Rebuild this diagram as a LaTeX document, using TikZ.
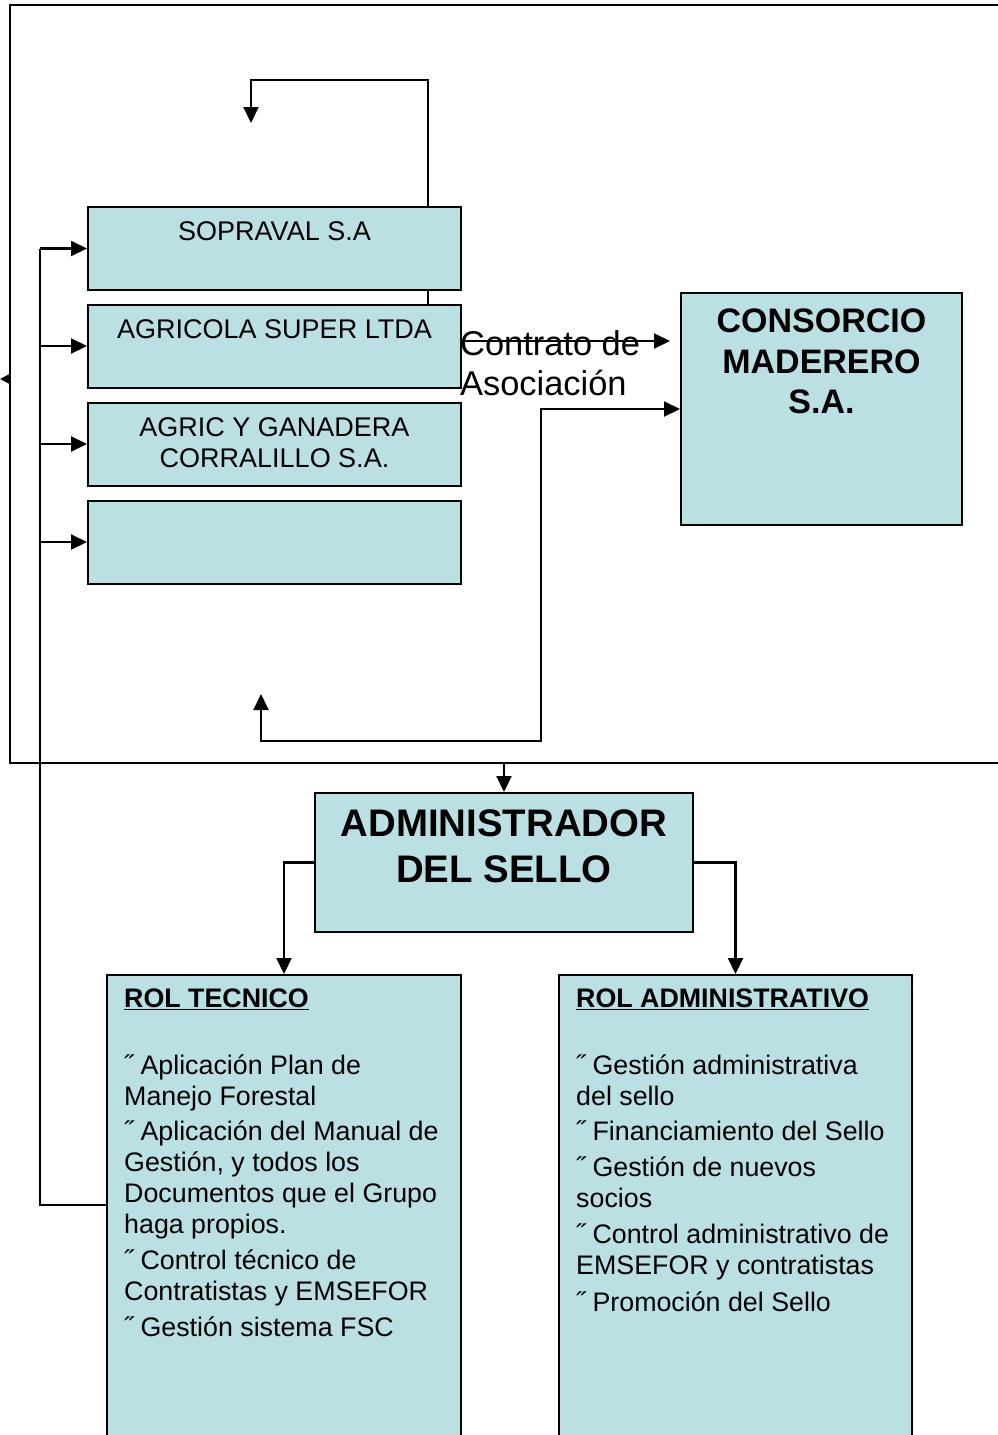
\documentclass[tikz,border=0pt]{standalone}
\usepackage{fontspec}
\setmainfont{Liberation Sans}
\usetikzlibrary{arrows.meta}
\definecolor{boxfill}{RGB}{187,224,227}

\tikzset{
  firmbox/.style={draw=black, fill=boxfill, line width=2pt, inner sep=0pt, minimum width=373pt, minimum height=83pt},
  bigbox/.style={draw=black, fill=boxfill, line width=2pt, inner sep=0pt},
  firmtext/.style={anchor=north, inner sep=0pt, align=center, font=\fontsize{27}{31}\selectfont},
  roltext/.style={anchor=north west, inner sep=0pt, align=left, font=\fontsize{26.8}{31}\selectfont},
  link/.style={line width=2.1pt},
  arr/.style={line width=2.1pt, -{Triangle[length=16pt,width=15pt]}},
  twoarr/.style={line width=2.1pt, {Triangle[length=16pt,width=15pt]}-{Triangle[length=16pt,width=15pt]}}
}

\begin{document}
\begin{tikzpicture}[x=1pt,y=1pt,yscale=-1,xscale=1]
\useasboundingbox (0,0) rectangle (998,1435);

% Outer frame
\draw[line width=2.2pt] (10,5) rectangle (1014,763);
\coordinate (frameleft) at (10,379);
\draw[line width=2pt, -{Triangle[length=10pt,width=10pt]}] (frameleft) -- ++(-10,0);

% Member companies
\node[firmbox] (sopraval) at (274.5,248.5) {};
\node[firmbox] (agricola) at (274.5,346) {};
\node[firmbox] (corralillo) at (274.5,444) {};
\node[firmbox] (blank) at (274.5,542) {};
\node[firmtext] (soptxt) at (274.5,221) {SOPRAVAL S.A};
\node[firmtext] (agrtxt) at (274.5,319) {AGRICOLA SUPER LTDA};
\node[firmtext] (cortxt) at (274.5,417) {AGRIC Y GANADERA\\CORRALILLO S.A.};

% Consortium
\node[bigbox, minimum width=281pt, minimum height=232pt] (consorcio) at (821.5,409) {};
\node[anchor=north, inner sep=0pt, align=center, font=\fontsize{34}{40.5}\selectfont\bfseries] (constxt) at (821.5,309) {CONSORCIO\\MADERERO\\S.A.};

% Contract label
\node[anchor=north west, inner sep=0pt, align=left, font=\fontsize{34.4}{40}\selectfont] (contrato) at (460,330) {Contrato de\\Asociaci\'on};

% Seal administrator
\node[bigbox, minimum width=378pt, minimum height=139pt] (admin) at (504,862.5) {};
\node[anchor=north, inner sep=0pt, align=center, font=\fontsize{38.4}{46}\selectfont\bfseries] (admintxt) at (504,809.5) {ADMINISTRADOR\\DEL SELLO};

% Roles
\node[bigbox, minimum width=354pt, minimum height=470pt] (tecnico) at (284,1210) {};
\node[bigbox, minimum width=353pt, minimum height=470pt] (administrativo) at (735.5,1210) {};
\node[roltext] (tectxt) at (124,988.5) {\textbf{\underline{ROL TECNICO}}\\[36pt]
˝ Aplicación Plan de\\
Manejo Forestal\\[4.5pt]
˝ Aplicación del Manual de\\
Gestión, y todos los\\
Documentos que el Grupo\\
haga propios.\\[4.5pt]
˝ Control técnico de\\
Contratistas y EMSEFOR\\[5.5pt]
˝ Gestión sistema FSC};
\node[roltext] (admtxt) at (576,988.5) {\textbf{\underline{ROL ADMINISTRATIVO}}\\[36pt]
˝ Gestión administrativa\\
del sello\\[4.5pt]
˝ Financiamiento del Sello\\[5pt]
˝ Gestión de nuevos\\
socios\\[5pt]
˝ Control administrativo de\\
EMSEFOR y contratistas\\[5.5pt]
˝ Promoción del Sello};

% Top loop
\coordinate (loopx) at (428,0);
\draw[arr] (sopraval.north -| loopx) |- (251,80) -- (251,123);
\draw[link] (sopraval.south -| loopx) -- (agricola.north -| loopx);

% Left bus
\coordinate (bustop) at (40,248.5);
\coordinate (busend) at (40,1205);
\draw[link] (bustop) -- (busend) -- (busend -| tecnico.west);
\draw[arr] (sopraval.west -| bustop) -- (sopraval.west);
\draw[arr] (agricola.west -| bustop) -- (agricola.west);
\draw[arr] (corralillo.west -| bustop) -- (corralillo.west);
\draw[arr] (blank.west -| bustop) -- (blank.west);

% Contract arrows
\coordinate (contend) at (670,341);
\draw[arr] (agricola.east |- contend) -- (contend);
\coordinate (rettip) at (261,694);
\coordinate (retcorner) at (541,741);
\draw[twoarr] (rettip) |- (retcorner) |- (consorcio.west);

% Administrator links
\coordinate (framebot) at (504,763);
\draw[arr] (framebot) -- (admin.north);
\draw[arr] (admin.west) -| (tecnico.north);
\draw[arr] (admin.east) -| (administrativo.north);

\end{tikzpicture}
\end{document}
